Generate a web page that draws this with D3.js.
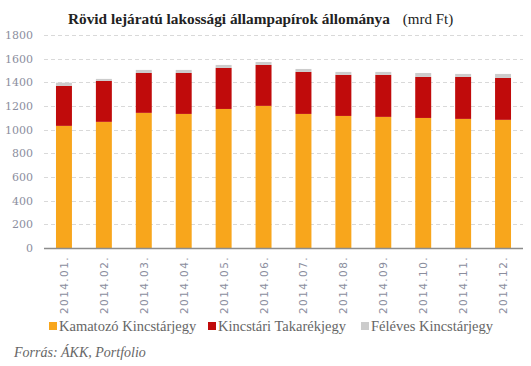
<!DOCTYPE html>
<html>
<head>
<meta charset="utf-8">
<script src="https://cdn.jsdelivr.net/npm/d3@7"></script>
<style>
  body { margin: 0; background: #fff; }
  svg { display: block; }
</style>
</head>
<body>
<div id="chart"></div>
<script>
// havi adatok (mrd Ft)
const months = ['2014.01.', '2014.02.', '2014.03.', '2014.04.', '2014.05.', '2014.06.',
                '2014.07.', '2014.08.', '2014.09.', '2014.10.', '2014.11.', '2014.12.']
const kamatozo = [1032, 1066, 1142, 1133, 1175, 1201, 1133, 1116, 1108, 1099, 1091, 1083]
const takarek  = [338, 346, 337, 346, 347, 346, 355, 347, 355, 347, 355, 354]
const feleves  = [27, 17, 26, 26, 25, 25, 25, 25, 25, 33, 25, 34]
const seriesNames = ['Kamatozó Kincstárjegy', 'Kincstári Takarékjegy', 'Féléves Kincstárjegy']
const yTicks = [0, 200, 400, 600, 800, 1000, 1200, 1400, 1600, 1800]

const colors = ['#f8a61c', '#c00b0b', '#cccccc']

const width = 531, height = 366
const margin = { left: 44, right: 8, top: 35, bottom: 118 }

const svg = d3.select('#chart').append('svg')
    .attr('width', width)
    .attr('height', height)

const rows = months.map((m, i) => ({ month: m, k: kamatozo[i], t: takarek[i], f: feleves[i] }))
const stacked = d3.stack().keys(['k', 't', 'f'])(rows)

const x = d3.scaleBand()
    .domain(months)
    .range([margin.left, width - margin.right])
    .paddingInner(0.6)
    .paddingOuter(0.3)

const y = d3.scaleLinear()
    .domain([0, 1800])
    .range([height - margin.bottom, margin.top])

// gridlines
svg.append('g')
    .selectAll('line')
    .data(yTicks.filter(d => d > 0))
    .join('line')
    .attr('x1', margin.left)
    .attr('x2', width - margin.right)
    .attr('y1', d => Math.round(y(d)) + 0.5)
    .attr('y2', d => Math.round(y(d)) + 0.5)
    .attr('stroke', '#d9d9d9')
    .attr('stroke-dasharray', '4,3')

// y labels
svg.append('g')
    .selectAll('text')
    .data(yTicks)
    .join('text')
    .attr('x', 33)
    .attr('y', d => y(d) + 4)
    .attr('text-anchor', 'end')
    .attr('font-family', 'DejaVu Serif')
    .attr('font-size', 11)
    .attr('fill', '#8b8e9e')
    .text(d => d)

// bars
svg.append('g')
    .selectAll('g')
    .data(stacked)
    .join('g')
    .attr('fill', (d, i) => colors[i])
    .selectAll('rect')
    .data(d => d)
    .join('rect')
    .attr('x', d => x(d.data.month))
    .attr('width', x.bandwidth())
    .attr('y', d => y(d[1]))
    .attr('height', d => y(d[0]) - y(d[1]))

// baseline
svg.append('line')
    .attr('x1', margin.left)
    .attr('x2', width - margin.right)
    .attr('y1', y(0) + 0.5)
    .attr('y2', y(0) + 0.5)
    .attr('stroke', '#8c8c8c')
    .attr('stroke-width', 1.5)

// x labels, rotated
svg.append('g')
    .selectAll('text')
    .data(months)
    .join('text')
    .attr('transform', d => `translate(${x(d) + x.bandwidth() / 2 + 4},${y(0) + 8}) rotate(-90)`)
    .attr('text-anchor', 'end')
    .attr('font-family', 'DejaVu Sans')
    .attr('font-size', 10.5)
    .attr('letter-spacing', 1.4)
    .attr('fill', '#8b8e9e')
    .text(d => d)

// title
const title = svg.append('text')
    .attr('x', 68)
    .attr('y', 24)
    .attr('font-family', 'Liberation Serif')
    .attr('fill', '#222')
title.append('tspan')
    .attr('font-weight', 'bold')
    .attr('font-size', 15.3)
    .text('Rövid lejáratú lakossági állampapírok állománya')
title.append('tspan')
    .attr('font-size', 15)
    .attr('dx', 13)
    .text('(mrd Ft)')

// legend
const legendX = [49, 208, 361]
const legend = svg.append('g')
    .selectAll('g')
    .data(seriesNames)
    .join('g')
    .attr('transform', (d, i) => `translate(${legendX[i]},326)`)
legend.append('rect')
    .attr('x', 0)
    .attr('y', -4)
    .attr('width', 8)
    .attr('height', 8)
    .attr('fill', (d, i) => colors[i])
legend.append('text')
    .attr('x', 10)
    .attr('y', 5)
    .attr('font-family', 'Liberation Serif')
    .attr('font-size', 14.5)
    .attr('fill', '#666')
    .text(d => d)

// source
svg.append('text')
    .attr('x', 14)
    .attr('y', 357)
    .attr('font-family', 'Liberation Serif')
    .attr('font-style', 'italic')
    .attr('font-size', 14)
    .attr('fill', '#666')
    .text('Forrás: ÁKK, Portfolio')
</script>
</body>
</html>
